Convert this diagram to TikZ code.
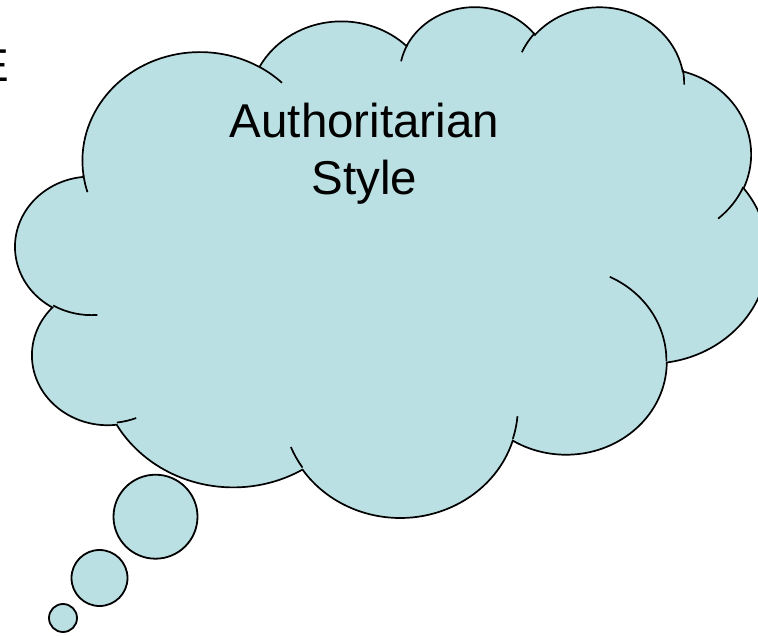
\documentclass[tikz,border=0pt]{standalone}
\usepackage{fontspec}
\setmainfont{Liberation Sans}
\definecolor{cloudfill}{HTML}{BBE0E3}
% OOXML-style arcTo: wR, hR, start (visual deg), sweep (deg)
\newcommand\oa[4]{arc[x radius=#1, y radius=#2, start angle={atan2(#1*sin(#3),#2*cos(#3))}, delta angle={mod(atan2(#1*sin(#3+#4),#2*cos(#3+#4))-atan2(#1*sin(#3),#2*cos(#3))+720,360)}]}
\begin{document}
\begin{tikzpicture}[x=1pt,y=-1pt,
  outline/.style={draw=black,line width=1.7pt,fill=cloudfill},
  arcline/.style={draw=black,line width=1.7pt},
  bubble/.style={circle,draw=black,line width=1.8pt,fill=cloudfill,inner sep=0pt},
  bigtext/.style={font=\fontsize{47.5}{57}\selectfont,inner sep=0pt},
  titletext/.style={font=\fontsize{46}{55}\selectfont,inner sep=0pt}]
\useasboundingbox (0,0) rectangle (758,636);
\clip (0,0) rectangle (758,636);
\node[titletext, anchor=base east] (e) at (9.4,82) {E};
\begin{scope}[shift={(15.6,5.5)}, xscale=17.41, yscale=11.82]
\path[outline] (3.9,14.37)
  \oa{6.753}{9.19}{-190.4875}{123.7805}
  \oa{5.333}{7.267}{-144.1024}{89.9452}
  \oa{4.365}{5.945}{-145.8079}{99.7230}
  \oa{4.857}{6.595}{-130.9861}{117.2417}
  \oa{5.333}{7.273}{-78.7089}{109.0269}
  \oa{6.775}{9.22}{-46.2673}{130.2690}
  \oa{5.785}{7.867}{0.6250}{114.0333}
  \oa{6.752}{9.215}{22.4516}{115.1726}
  \oa{7.72}{10.543}{66.2426}{75.7110}
  \oa{4.36}{5.918}{-274.9421}{146.7356}
  \oa{4.345}{5.945}{-246.8285}{152.5189}
  -- cycle;
\path[arcline]
  (4.693,26.177) \oa{4.345}{5.945}{86.742}{26.4295}
  (6.928,34.899) \oa{4.36}{5.918}{73.6105}{11.4475}
  (16.478,39.09) \oa{6.752}{9.215}{137.6242}{14.0811}
  (28.827,34.751) \oa{6.752}{9.215}{6.4533}{15.9984}
  (34.129,22.954) \oa{5.785}{7.867}{-70.2924}{70.9174}
  (41.798,15.354) \oa{5.333}{7.273}{30.3180}{27.7515}
  (38.324,5.426) \oa{4.857}{6.595}{-13.7443}{14.8589}
  (29.078,3.952) \oa{4.857}{6.595}{-149.1815}{18.1954}
  (22.141,4.72) \oa{4.365}{5.945}{-163.4943}{17.6864}
  (14,5.192) \oa{6.753}{9.19}{-66.7070}{12.3194}
  (4.127,15.789) \oa{6.753}{9.19}{157.6544}{11.8582};
\end{scope}
\node[bubble, minimum size=84pt] (b3) at (155.5,516.7) {};
\node[bubble, minimum size=56pt] (b2) at (99.5,578) {};
\node[bubble, minimum size=28pt] (b1) at (63,618) {};
\node[bigtext, anchor=base] (t1) at (364.5,137.7) {Authoritarian};
\node[bigtext, anchor=base] (t2) at (364.5,195) {Style};
\end{tikzpicture}
\end{document}
